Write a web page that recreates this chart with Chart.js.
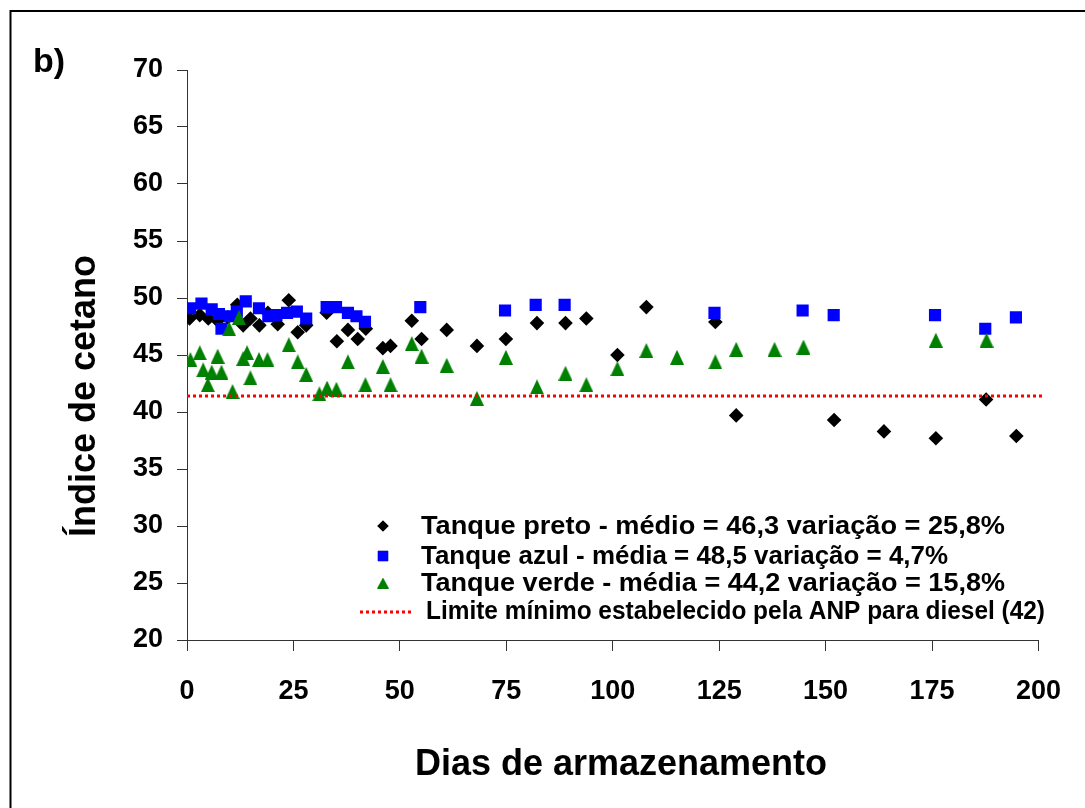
<!DOCTYPE html>
<html><head><meta charset="utf-8">
<script src="https://cdn.jsdelivr.net/npm/chart.js@4.4.1/dist/chart.umd.min.js"></script>
<style>html,body{margin:0;padding:0;background:#fff;overflow:hidden}canvas{display:block}</style>
</head><body>
<canvas id="c" width="1085" height="808"></canvas>
<script>
// ---- data ----
const pretoX = [0.6, 3.0, 5.0, 7.2, 9.6, 11.8, 13.2, 14.9, 17.0, 19.0, 21.3, 23.9, 26.0, 28.0, 32.8, 35.2, 37.8, 40.1, 42.0, 46.0, 47.8, 52.8, 55.1, 61.0, 68.1, 74.9, 82.2, 88.9, 93.8, 101.1, 107.9, 124.1, 129.0, 152.0, 163.7, 175.9, 187.7, 194.8];
const pretoY = [48.2, 48.5, 48.2, 48.0, 48.3, 49.4, 47.6, 48.2, 47.6, 48.7, 47.7, 49.8, 47.0, 47.6, 48.7, 46.2, 47.2, 46.4, 47.3, 45.6, 45.8, 48.0, 46.4, 47.2, 45.8, 46.4, 47.8, 47.8, 48.2, 45.0, 49.2, 47.9, 39.7, 39.3, 38.3, 37.7, 41.1, 37.9];

const azulX = [0.7, 3.4, 5.8, 7.5, 8.1, 10.1, 11.7, 13.8, 16.9, 19.1, 21.0, 23.5, 25.8, 28.0, 32.8, 35.0, 37.8, 39.8, 41.8, 54.8, 74.7, 81.9, 88.7, 123.9, 144.6, 151.9, 175.7, 187.5, 194.7];
const azulY = [49.1, 49.5, 49.0, 48.6, 47.3, 48.4, 48.8, 49.7, 49.1, 48.4, 48.5, 48.7, 48.8, 48.2, 49.2, 49.2, 48.7, 48.4, 47.9, 49.2, 48.9, 49.4, 49.4, 48.7, 48.9, 48.5, 48.5, 47.3, 48.3];

const verdeX = [0.8, 3.0, 3.8, 4.9, 5.8, 7.2, 8.1, 9.9, 10.7, 12.2, 13.2, 14.1, 14.9, 16.9, 18.9, 23.9, 26.0, 28.0, 31.1, 32.9, 35.1, 37.8, 41.9, 46.0, 47.8, 52.8, 55.1, 61.0, 68.1, 74.9, 82.2, 88.9, 93.8, 101.1, 107.9, 115.1, 124.1, 129.0, 138.0, 144.8, 175.9, 187.8];
const verdeY = [44.6, 45.2, 43.7, 42.4, 43.5, 44.9, 43.5, 47.3, 41.8, 48.3, 44.7, 45.2, 43.0, 44.6, 44.6, 45.9, 44.4, 43.3, 41.6, 42.1, 42.0, 44.4, 42.4, 44.0, 42.4, 46.0, 44.9, 44.1, 41.2, 44.8, 42.2, 43.4, 42.4, 43.8, 45.4, 44.8, 44.4, 45.5, 45.5, 45.7, 46.3, 46.3];

const limiteX = [0, 201];
const limiteY = [41.4, 41.4];

const xTickValues = [0, 25, 50, 75, 100, 125, 150, 175, 200];
const yTickValues = [20, 25, 30, 35, 40, 45, 50, 55, 60, 65, 70];

const seriesNames = [
  'Tanque preto - médio = 46,3 variação = 25,8%',
  'Tanque azul - média = 48,5 variação = 4,7%',
  'Tanque verde - média = 44,2 variação = 15,8%',
  'Limite mínimo estabelecido pela ANP para diesel (42)'
];
const xTitle = 'Dias de armazenamento';
const yTitle = 'Índice de cetano';
const panelLabel = 'b)';

// ---- chart ----
const FONT = '"Liberation Sans", Arial, Helvetica, sans-serif';
const pts = (xs, ys) => xs.map((x, i) => ({x, y: ys[i]}));

function triangleImage(w, h, color) {
  const c = document.createElement('canvas');
  c.width = w; c.height = h;
  const g = c.getContext('2d');
  g.fillStyle = color;
  g.beginPath();
  g.moveTo(w / 2, 0);
  g.lineTo(w, h);
  g.lineTo(0, h);
  g.closePath();
  g.fill();
  return c;
}
const triPlot = triangleImage(14, 15, '#008000');
const triLegend = triangleImage(12, 11, '#008000');

const decor = {
  id: 'decor',
  beforeDraw(chart) {
    const ctx = chart.ctx;
    ctx.save();
    ctx.fillStyle = '#fff';
    ctx.fillRect(0, 0, chart.width, chart.height);
    ctx.strokeStyle = '#000';
    ctx.lineWidth = 2;
    ctx.strokeRect(10.5, 11, 2000, 2000);
    ctx.restore();
  },
  afterDraw(chart) {
    const ctx = chart.ctx;
    ctx.save();
    ctx.fillStyle = '#000';
    ctx.textAlign = 'left';
    ctx.textBaseline = 'alphabetic';
    ctx.font = 'bold 34px ' + FONT;
    ctx.fillText(panelLabel, 33, 72);

    // axis titles
    ctx.font = 'bold 36px ' + FONT;
    ctx.textAlign = 'center';
    ctx.fillText(xTitle, 621, 775);
    ctx.save();
    ctx.translate(95, 396);
    ctx.rotate(-Math.PI / 2);
    ctx.fillText(yTitle, 0, 0);
    ctx.restore();

    // legend
    const ds = chart.data.datasets;
    const rows = [
      {y: 526, base: 534, tx: 421, w: 584},
      {y: 556, base: 564, tx: 421, w: 527},
      {y: 583, base: 591, tx: 421, w: 584},
      {y: 612, base: 619, tx: 426, w: 619}
    ];
    const mx = 383;
    ctx.font = 'bold 26px ' + FONT;
    ctx.textAlign = 'left';
    for (let i = 0; i < 4; i++) {
      const d = ds[i], r = rows[i];
      if (i === 2) {
        ctx.drawImage(triLegend, mx - 6, r.y - 5.5);
      } else if (i < 2) {
        ctx.beginPath();
        Chart.helpers.drawPoint(ctx, {
          pointStyle: d.pointStyle, radius: d.legendRadius, rotation: 0,
          borderWidth: 0
        }, mx, r.y);
        ctx.fillStyle = d.backgroundColor;
        ctx.fill();
      } else {
        ctx.beginPath();
        ctx.strokeStyle = d.borderColor;
        ctx.lineWidth = d.borderWidth;
        ctx.setLineDash(d.borderDash);
        ctx.moveTo(360, r.y);
        ctx.lineTo(412, r.y);
        ctx.stroke();
        ctx.setLineDash([]);
      }
      ctx.fillStyle = '#000';
      const mw = ctx.measureText(seriesNames[i]).width;
      ctx.save();
      ctx.translate(r.tx, r.base);
      ctx.scale(r.w / mw, 1);
      ctx.fillText(seriesNames[i], 0, 0);
      ctx.restore();
    }
    ctx.restore();
  }
};

new Chart(document.getElementById('c'), {
  type: 'scatter',
  data: {
    datasets: [
      {label: seriesNames[0], data: pts(pretoX, pretoY), pointStyle: 'rectRot', pointRadius: 7.3,
       backgroundColor: '#000', borderColor: '#000', borderWidth: 0, order: 3, legendRadius: 5.6},
      {label: seriesNames[1], data: pts(azulX, azulY), pointStyle: 'rect', pointRadius: 8.6,
       backgroundColor: '#0000ff', borderColor: '#3333ff', borderWidth: 0, order: 2, legendRadius: 7.3},
      {label: seriesNames[2], data: pts(verdeX, verdeY), pointStyle: triPlot, pointRadius: 7.5,
       backgroundColor: '#008000', borderColor: '#008000', borderWidth: 0, order: 1},
      {label: seriesNames[3], type: 'line', data: pts(limiteX, limiteY), showLine: true, pointRadius: 0,
       borderColor: '#ff0000', borderWidth: 3, borderDash: [3, 3], fill: false, clip: false, order: 0}
    ]
  },
  options: {
    responsive: false,
    animation: false,
    devicePixelRatio: 1,
    layout: {padding: {left: 0, top: 70, right: 45, bottom: 0}},
    plugins: {legend: {display: false}, tooltip: {enabled: false}},
    scales: {
      x: {
        type: 'linear', position: 'bottom', min: 0, max: 200,
        afterBuildTicks: s => { s.ticks = xTickValues.map(v => ({value: v})); },
        afterFit: s => { s.height = 168; },
        ticks: {color: '#000', font: {family: FONT, size: 27, weight: 'bold'}, padding: 24, maxRotation: 0, autoSkip: false},
        grid: {drawOnChartArea: false, drawTicks: true, tickLength: 11, color: '#333', lineWidth: 1},
        border: {color: '#333', width: 1}
      },
      y: {
        type: 'linear', position: 'left', min: 20, max: 70,
        afterBuildTicks: s => { s.ticks = yTickValues.map(v => ({value: v})); },
        afterFit: s => { s.width = 187; },
        ticks: {color: '#000', font: {family: FONT, size: 27, weight: 'bold'}, padding: 14, autoSkip: false},
        grid: {drawOnChartArea: false, drawTicks: true, tickLength: 10, color: '#333', lineWidth: 1},
        border: {color: '#333', width: 1}
      }
    }
  },
  plugins: [decor]
});
</script>
</body></html>
